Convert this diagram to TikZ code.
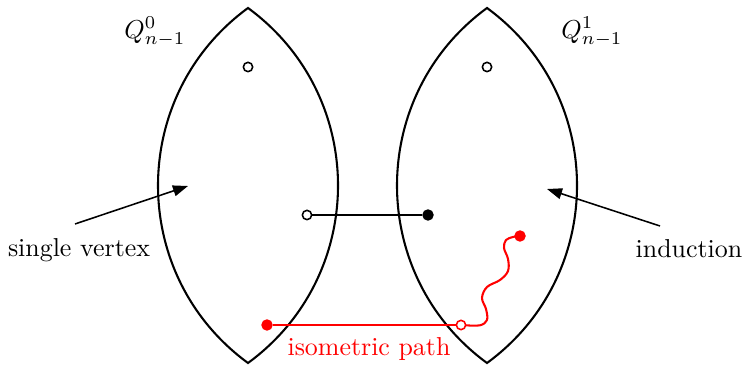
\documentclass[tikz,border=0pt]{standalone}
\usetikzlibrary{arrows.meta}
\begin{document}
\begin{tikzpicture}[x=0.386pt,y=-0.386pt,
  lensline/.style={line width=0.8pt,black},
  opendot/.style={circle,draw,line width=0.6pt,fill=white,inner sep=0pt,minimum size=3.6pt},
  fulldot/.style={circle,draw,fill,inner sep=0pt,minimum size=4pt},
  edgeline/.style={line width=0.8pt},
  pointer/.style={line width=0.6pt,-{Triangle[length=5.8pt,width=4.2pt]}},
  lbl/.style={font=\normalsize}]
\useasboundingbox (0,0) rectangle (744,365);
% lenses
\coordinate (LT) at (248,8);
\coordinate (LB) at (248,363);
\coordinate (RT) at (487,8);
\coordinate (RB) at (487,363);
\draw[lensline,line join=miter] (LT) .. controls (368,95.8) and (368,275.2) .. (LB)
  .. controls (128,275.2) and (128,95.8) .. (LT) -- cycle;
\draw[lensline,line join=miter] (RT) .. controls (607,95.8) and (607,275.2) .. (RB)
  .. controls (367,275.2) and (367,95.8) .. (RT) -- cycle;
% labels
\node[lbl] (q0) at (155,32) {$Q^0_{n-1}$};
\node[lbl] (q1) at (592,32) {$Q^1_{n-1}$};
\node[lbl] (sv) at (79,250) {single vertex};
\node[lbl] (ind) at (689,249) {induction};
\node[lbl,text=red] (iso) at (369,349) {isometric path};
% top dots
\node[opendot] (t0) at (248,67) {};
\node[opendot] (t1) at (487,67) {};
% arrows
\coordinate (svs) at (75,224);
\coordinate (svt) at (188,186);
\coordinate (ins) at (660,226);
\coordinate (int) at (547,189);
\draw[pointer] (svs) -- (svt);
\draw[pointer] (ins) -- (int);
% black edge
\node[opendot] (e0) at (307,215) {};
\node[fulldot] (e1) at (428,215) {};
\draw[edgeline] (e0) -- (e1);
% red path
\node[fulldot,red] (r0) at (267,325) {};
\node[opendot,draw=red] (r1) at (461,325) {};
\node[fulldot,red] (r2) at (520,236) {};
\draw[edgeline,red] (r0) -- (r1);
\draw[edgeline,red,line join=round] (r1.east) plot[smooth,tension=0.6] coordinates
  {(466,325.3) (480,325.3) (487,320) (486,309) (482,298) (487,287) (500,280) (508,271) (508,259) (504,248) (506,240) (513,237) (518,236)};
\end{tikzpicture}
\end{document}
